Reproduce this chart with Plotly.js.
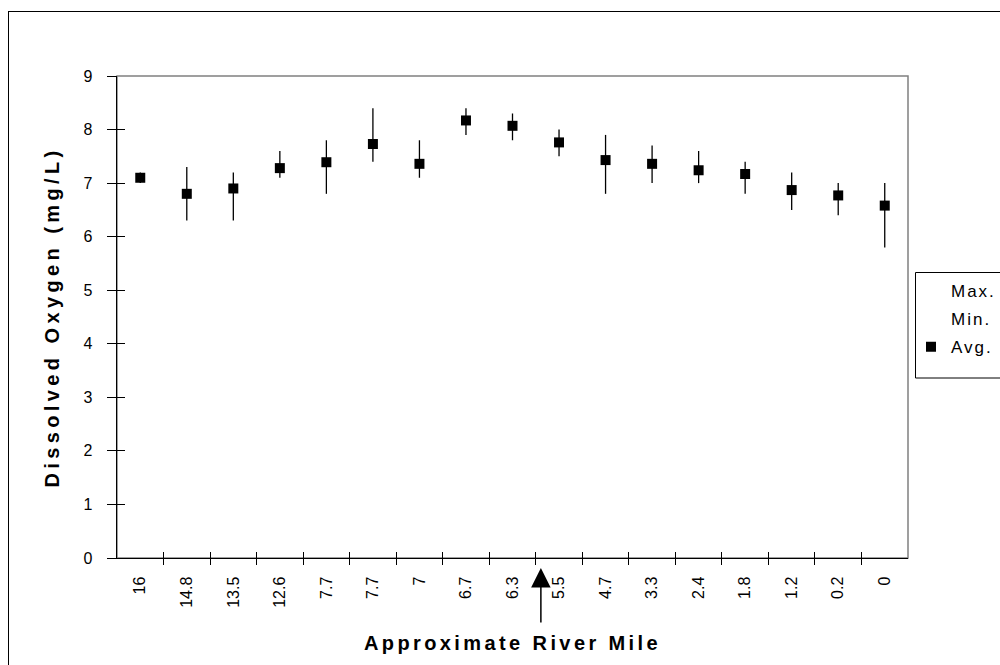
<!DOCTYPE html>
<html>
<head>
<meta charset="utf-8">
<script src="https://cdn.plot.ly/plotly-3.0.1.min.js"></script>
<style>
  html, body { margin: 0; padding: 0; background: #fff; overflow: hidden; }
  #frame { position: absolute; left: 8px; top: 11px; width: 1100px; height: 800px; border-left: 1.5px solid #000; border-top: 1.5px solid #000; box-sizing: border-box; }
  #chart { position: absolute; left: 0; top: 0; width: 1000px; height: 665px; }
  .xtitle { letter-spacing: 3.4px; }
  .ytitle { letter-spacing: 4.4px; }
  .legendtext { letter-spacing: 2px; }
</style>
</head>
<body>
<div id="frame"></div>
<div id="chart"></div>
<script>
// River mile labels (upstream to downstream)
const riverMile = ["16","14.8","13.5","12.6","7.7","7.7","7","6.7","6.3","5.5","4.7","3.3","2.4","1.8","1.2","0.2","0"];
// Dissolved oxygen (mg/L)
const doMax = [7.2, 7.3, 7.2, 7.6, 7.8, 8.4, 7.8, 8.4, 8.3, 8.0, 7.9, 7.7, 7.6, 7.4, 7.2, 7.0, 7.0];
const doMin = [7.0, 6.3, 6.3, 7.1, 6.8, 7.4, 7.1, 7.9, 7.8, 7.5, 6.8, 7.0, 7.0, 6.8, 6.5, 6.4, 5.8];
const doAvg = [7.1, 6.8, 6.9, 7.28, 7.39, 7.73, 7.36, 8.17, 8.07, 7.76, 7.43, 7.36, 7.24, 7.17, 6.87, 6.77, 6.58];
const yTicks = [0, 1, 2, 3, 4, 5, 6, 7, 8, 9];

const pos = riverMile.map((_, i) => i);
const bounds = riverMile.slice(1).map((_, i) => i + 0.5);

const FONT = "Liberation Sans, Arial, sans-serif";

const traces = [
  { name: "Max.", legendgroup: "a", x: pos, y: doMax, xaxis: "x2", yaxis: "y2", type: "scatter", mode: "markers",
    marker: { color: "rgba(0,0,0,0)", size: 8 }, hoverinfo: "skip" },
  { name: "Min.", legendgroup: "b", x: pos, y: doMin, xaxis: "x2", yaxis: "y2", type: "scatter", mode: "markers",
    marker: { color: "rgba(0,0,0,0)", size: 8 }, hoverinfo: "skip" },
  { name: "Avg.", legendgroup: "c", x: pos, y: doAvg, type: "scatter", mode: "markers",
    marker: { symbol: "square", color: "#000", size: 10 },
    error_y: { type: "data", symmetric: false,
      array: doMax.map((v, i) => v - doAvg[i]),
      arrayminus: doAvg.map((v, i) => v - doMin[i]),
      width: 0, thickness: 1.3, color: "#000" } }
];

const W = 1000, H = 665, L = 117, R = 92, T = 76, B = 107;
const pw = W - L - R, ph = H - T - B;
const px = v => (v - L) / pw;
const py = v => (H - B - v) / ph;

const layout = {
  width: W, height: H,
  margin: { l: L, r: R, t: T, b: B, autoexpand: false },
  paper_bgcolor: "rgba(0,0,0,0)",
  plot_bgcolor: "rgba(0,0,0,0)",
  font: { family: FONT, size: 16, color: "#000" },
  showlegend: true,
  legend: {
    x: px(911), xanchor: "left", y: py(273), yanchor: "top",
    bgcolor: "rgba(0,0,0,0)", borderwidth: 0,
    font: { family: FONT, size: 17, color: "#000" },
    itemwidth: 30, tracegroupgap: 3
  },
  xaxis: {
    range: [-0.5, 16.5], fixedrange: true,
    tickmode: "array", tickvals: pos, ticktext: riverMile,
    ticks: "", tickangle: -90, ticklabelstandoff: 11,
    tickfont: { family: FONT, size: 16 },
    minor: { tickmode: "array", tickvals: bounds, ticks: "outside", ticklen: 6, tickwidth: 1, tickcolor: "#000" },
    showline: true, linecolor: "#000", linewidth: 1.3,
    showgrid: false, zeroline: false,
    title: { text: "Approximate River Mile", font: { family: FONT, size: 20, weight: "bold" }, standoff: 29 }
  },
  yaxis: {
    range: [0, 9], fixedrange: true,
    tickmode: "array", tickvals: yTicks,
    ticks: "outside", ticklen: 9, tickwidth: 1, tickcolor: "#000",
    tickfont: { family: FONT, size: 16 }, ticklabelstandoff: 11,
    showline: true, linecolor: "#000", linewidth: 1.3,
    showgrid: false, zeroline: false,
    title: { text: "Dissolved Oxygen (mg/L)", font: { family: FONT, size: 20, weight: "bold" }, standoff: 18 }
  },
  xaxis2: {
    overlaying: "x", anchor: "y2", range: [-0.5, 16.5], fixedrange: true,
    tickmode: "array", tickvals: bounds, ticks: "inside", ticklen: 6, tickwidth: 1, tickcolor: "#000",
    showticklabels: false, showline: false, showgrid: false, zeroline: false
  },
  yaxis2: {
    overlaying: "y", anchor: "x2", side: "left", range: [0, 9], fixedrange: true,
    tickmode: "array", tickvals: yTicks, ticks: "inside", ticklen: 8, tickwidth: 1, tickcolor: "#000",
    showticklabels: false, showline: false, showgrid: false, zeroline: false
  },
  shapes: [
    { type: "rect", xref: "paper", yref: "paper", x0: 0, x1: 1, y0: 0, y1: 1, layer: "below",
      line: { color: "#808080", width: 1.5 } },
    { type: "rect", xref: "paper", yref: "paper", x0: px(915.5), x1: px(1010), y0: py(378), y1: py(272.5), layer: "below",
      line: { color: "#000", width: 1 }, fillcolor: "rgba(0,0,0,0)" }
  ],
  annotations: [
    { x: 8.61, y: py(568), xref: "x", yref: "paper", text: "", showarrow: true,
      arrowhead: 2, arrowsize: 2.6, arrowwidth: 1.5, arrowcolor: "#000",
      ax: 0, ay: 56, standoff: 0 }
  ]
};

Plotly.newPlot("chart", traces, layout, { displayModeBar: false, staticPlot: true });
</script>
</body>
</html>
